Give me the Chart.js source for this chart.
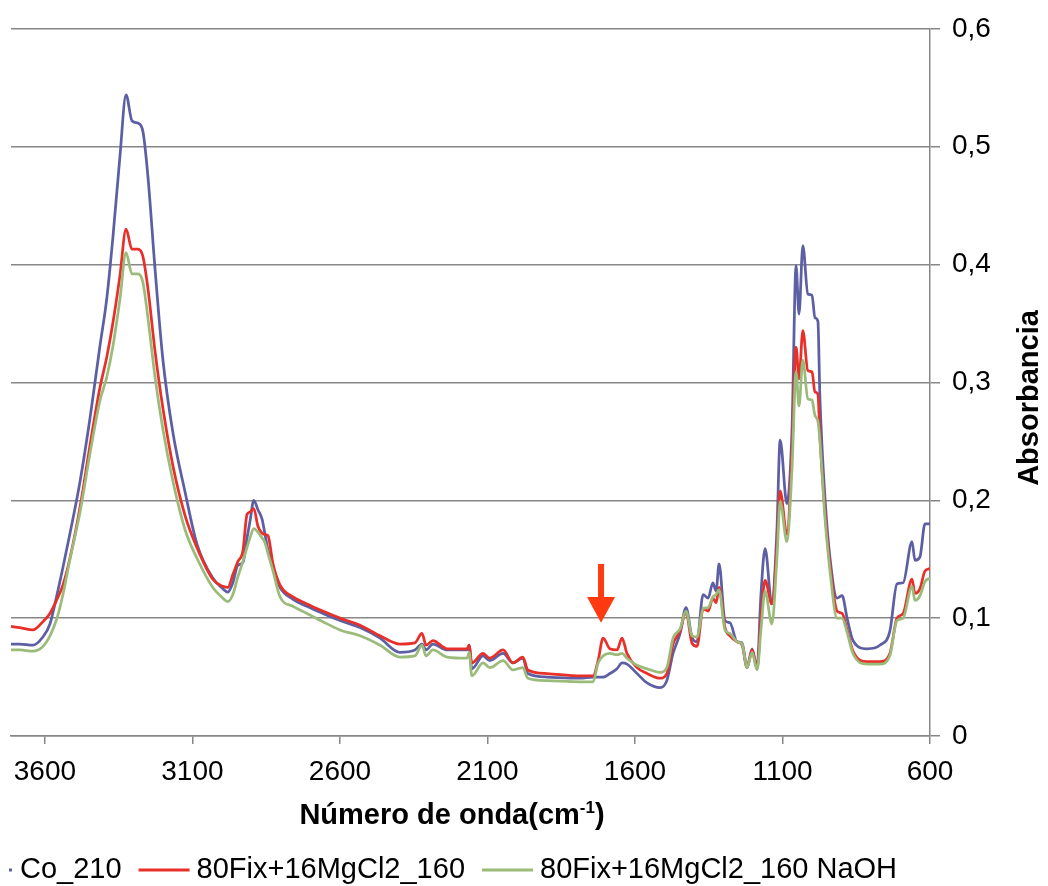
<!DOCTYPE html>
<html>
<head>
<meta charset="utf-8">
<script src="https://cdn.jsdelivr.net/npm/chart.js@4.4.0/dist/chart.umd.min.js"></script>
<style>
  html, body { margin: 0; padding: 0; background: #fff; }
  #wrap { width: 1048px; height: 886px; position: relative; }
</style>
</head>
<body>
<div id="wrap"><canvas id="chart"></canvas></div>
<script>
// Wavenumber (cm-1), high to low
const wavenumber = [
  3715, 3685, 3641, 3607, 3583, 3559, 3539, 3515, 3481, 3447,
  3414, 3390, 3370, 3346, 3325, 3305, 3285, 3268, 3251, 3227,
  3200, 3166, 3125, 3085, 3031, 2997, 2980, 2963, 2946, 2929,
  2915, 2905, 2892, 2878, 2864, 2854, 2844, 2827, 2803, 2759,
  2712, 2658, 2600, 2532, 2464, 2397, 2346, 2322, 2308, 2285,
  2237, 2169, 2162, 2153, 2115, 2092, 2047, 2014, 1980, 1963,
  1898, 1786, 1742, 1725, 1708, 1685, 1661, 1644, 1627, 1593,
  1559, 1515, 1492, 1471, 1447, 1427, 1407, 1390, 1369, 1352,
  1336, 1325, 1315, 1295, 1278, 1254, 1237, 1220, 1203, 1186,
  1173, 1159, 1136, 1119, 1108, 1085, 1068, 1054, 1044, 1031,
  1014, 1000, 990, 980, 973, 956, 939, 915, 898, 881,
  861, 814, 770, 736, 712, 691, 661, 651, 634, 617, 600
];

// Absorbance, series Co_210
const co210 = [
  0.078, 0.078, 0.077, 0.084, 0.095, 0.120, 0.143, 0.172, 0.216, 0.270,
  0.330, 0.372, 0.422, 0.491, 0.544, 0.522, 0.520, 0.513, 0.475, 0.397,
  0.319, 0.257, 0.207, 0.163, 0.134, 0.125, 0.122, 0.130, 0.145, 0.147,
  0.168, 0.182, 0.200, 0.192, 0.184, 0.171, 0.158, 0.142, 0.126, 0.116,
  0.110, 0.104, 0.098, 0.092, 0.083, 0.071, 0.073, 0.078, 0.073, 0.078,
  0.073, 0.073, 0.077, 0.057, 0.068, 0.064, 0.070, 0.062, 0.066, 0.053,
  0.050, 0.049, 0.050, 0.050, 0.050, 0.053, 0.057, 0.062, 0.061, 0.053,
  0.045, 0.041, 0.047, 0.070, 0.087, 0.109, 0.084, 0.080, 0.120, 0.117,
  0.130, 0.123, 0.146, 0.098, 0.096, 0.080, 0.079, 0.058, 0.074, 0.058,
  0.120, 0.159, 0.112, 0.174, 0.251, 0.197, 0.258, 0.399, 0.358, 0.416,
  0.375, 0.374, 0.355, 0.352, 0.286, 0.202, 0.151, 0.117, 0.119, 0.100,
  0.081, 0.074, 0.077, 0.089, 0.129, 0.130, 0.165, 0.149, 0.152, 0.180, 0.180
];

// Absorbance, series 80Fix+16MgCl2_160
const mgcl2 = [
  0.093, 0.092, 0.090, 0.097, 0.104, 0.116, 0.128, 0.151, 0.194, 0.247,
  0.295, 0.322, 0.350, 0.390, 0.430, 0.413, 0.413, 0.407, 0.380, 0.327,
  0.278, 0.229, 0.187, 0.160, 0.133, 0.127, 0.126, 0.137, 0.148, 0.157,
  0.188, 0.190, 0.193, 0.178, 0.172, 0.171, 0.170, 0.146, 0.128, 0.118,
  0.112, 0.106, 0.100, 0.094, 0.085, 0.078, 0.079, 0.087, 0.077, 0.081,
  0.074, 0.074, 0.077, 0.062, 0.070, 0.066, 0.073, 0.062, 0.067, 0.056,
  0.053, 0.051, 0.051, 0.064, 0.083, 0.074, 0.073, 0.083, 0.070, 0.058,
  0.053, 0.049, 0.053, 0.078, 0.089, 0.105, 0.079, 0.076, 0.108, 0.106,
  0.117, 0.113, 0.126, 0.092, 0.085, 0.080, 0.077, 0.058, 0.073, 0.057,
  0.100, 0.132, 0.112, 0.160, 0.208, 0.171, 0.240, 0.330, 0.303, 0.344,
  0.310, 0.309, 0.292, 0.290, 0.254, 0.190, 0.145, 0.106, 0.104, 0.090,
  0.072, 0.063, 0.063, 0.070, 0.100, 0.104, 0.133, 0.121, 0.125, 0.140, 0.142
];

// Absorbance, series 80Fix+16MgCl2_160 NaOH
const mgcl2NaOH = [
  0.073, 0.073, 0.072, 0.076, 0.085, 0.100, 0.120, 0.150, 0.190, 0.240,
  0.284, 0.305, 0.330, 0.370, 0.410, 0.392, 0.392, 0.385, 0.355, 0.305,
  0.260, 0.216, 0.175, 0.151, 0.126, 0.117, 0.114, 0.120, 0.135, 0.148,
  0.160, 0.168, 0.176, 0.173, 0.168, 0.164, 0.155, 0.140, 0.118, 0.110,
  0.104, 0.097, 0.090, 0.085, 0.077, 0.067, 0.068, 0.077, 0.068, 0.073,
  0.067, 0.066, 0.071, 0.051, 0.062, 0.058, 0.064, 0.056, 0.058, 0.049,
  0.047, 0.046, 0.046, 0.062, 0.068, 0.070, 0.069, 0.070, 0.066, 0.060,
  0.057, 0.054, 0.058, 0.083, 0.091, 0.106, 0.085, 0.084, 0.108, 0.109,
  0.118, 0.120, 0.124, 0.090, 0.087, 0.080, 0.078, 0.058, 0.071, 0.056,
  0.090, 0.123, 0.095, 0.150, 0.199, 0.165, 0.225, 0.309, 0.280, 0.319,
  0.286, 0.285, 0.272, 0.267, 0.250, 0.185, 0.140, 0.100, 0.100, 0.088,
  0.070, 0.061, 0.061, 0.068, 0.098, 0.100, 0.127, 0.115, 0.119, 0.131, 0.134
];

const seriesNames = ["Co_210", "80Fix+16MgCl2_160", "80Fix+16MgCl2_160 NaOH"];
const seriesColors = ["#5c5fa3", "#e8302a", "#9bbb7a"];
const xTicks = [3600, 3100, 2600, 2100, 1600, 1100, 600];

// red arrow pointing at the 1715 cm-1 band (absorbance from top of shaft to tip)
const arrowWavenumber = 1715;
const arrowTop = 0.146;
const arrowBase = 0.118;
const arrowTip = 0.096;

const FONT = "'Liberation Sans', Arial, sans-serif";
const GRID = "#878787";

function toPoints(values) {
  return wavenumber.map((w, i) => ({ x: w, y: values[i] }));
}

// arrow, axis titles and the legend row under the chart
const extras = {
  id: "extras",
  afterDatasetsDraw(chart) {
    const ctx = chart.ctx;
    const xs = chart.scales.x;
    const ys = chart.scales.y;

    // Arrow
    const ax = xs.getPixelForValue(arrowWavenumber);
    const yTop = ys.getPixelForValue(arrowTop);
    const yBase = ys.getPixelForValue(arrowBase);
    const yTip = ys.getPixelForValue(arrowTip);
    ctx.save();
    ctx.fillStyle = "#ff3a10";
    ctx.fillRect(ax - 3, yTop, 6, yBase - yTop + 1);
    ctx.beginPath();
    ctx.moveTo(ax - 14, yBase);
    ctx.lineTo(ax + 14, yBase);
    ctx.lineTo(ax, yTip);
    ctx.closePath();
    ctx.fill();
    ctx.restore();
  },
  afterDraw(chart) {
    const ctx = chart.ctx;
    ctx.save();
    ctx.fillStyle = "#000";

    // Y title, reads bottom to top
    ctx.font = "bold 29px " + FONT;
    ctx.textAlign = "center";
    ctx.textBaseline = "middle";
    ctx.translate(1030, 398);
    ctx.rotate(-Math.PI / 2);
    ctx.fillText("Absorbancia", 0, 0);
    ctx.setTransform(1, 0, 0, 1, 0, 0);

    // X title with superscript
    const main = "Número de onda(cm";
    const sup = "-1";
    const close = ")";
    ctx.textAlign = "left";
    ctx.textBaseline = "alphabetic";
    ctx.font = "bold 29px " + FONT;
    const wMain = ctx.measureText(main).width;
    const wClose = ctx.measureText(close).width;
    ctx.font = "bold 17px " + FONT;
    const wSup = ctx.measureText(sup).width;
    let tx = 452 - (wMain + wSup + wClose) / 2;
    const base = 824;
    ctx.font = "bold 29px " + FONT;
    ctx.fillText(main, tx, base);
    tx += wMain;
    ctx.font = "bold 17px " + FONT;
    ctx.fillText(sup, tx, base - 11);
    tx += wSup;
    ctx.font = "bold 29px " + FONT;
    ctx.fillText(close, tx, base);

    // Legend
    const ly = 870;
    ctx.font = "29px " + FONT;
    ctx.textBaseline = "middle";
    let lx = 20;
    seriesNames.forEach((name, i) => {
      ctx.strokeStyle = seriesColors[i];
      ctx.lineWidth = 3;
      ctx.beginPath();
      if (i === 0) {
        // only the tip of the first marker fits on the canvas
        ctx.moveTo(9, ly);
        ctx.lineTo(12, ly);
      } else {
        ctx.moveTo(lx, ly);
        ctx.lineTo(lx + 51, ly);
        lx += 58;
      }
      ctx.stroke();
      ctx.fillStyle = "#000";
      ctx.fillText(name, lx, ly);
      lx += ctx.measureText(name).width + 17;
    });
    ctx.restore();
  },
};

const config = {
  type: "line",
  data: {
    datasets: [
      {
        label: seriesNames[0],
        data: toPoints(co210),
        borderColor: seriesColors[0],
        order: 2,
      },
      {
        label: seriesNames[1],
        data: toPoints(mgcl2),
        borderColor: seriesColors[1],
        order: 1,
      },
      {
        label: seriesNames[2],
        data: toPoints(mgcl2NaOH),
        borderColor: seriesColors[2],
        order: 0,
      },
    ],
  },
  options: {
    responsive: true,
    maintainAspectRatio: false,
    animation: false,
    devicePixelRatio: 1,
    layout: { padding: { left: 11, top: 22, right: 0, bottom: 0 } },
    elements: {
      point: { radius: 0 },
      line: { borderWidth: 2.75, cubicInterpolationMode: "monotone", fill: false },
    },
    plugins: {
      legend: { display: false },
      tooltip: { enabled: false },
    },
    scales: {
      x: {
        type: "linear",
        reverse: true,
        min: 600,
        max: 3715,
        afterBuildTicks: (scale) => {
          scale.ticks = xTicks.map((v) => ({ value: v }));
        },
        afterFit: (scale) => {
          scale.height = 150;
        },
        ticks: {
          font: { family: FONT, size: 28 },
          color: "#000",
          padding: 11,
          maxRotation: 0,
          autoSkip: false,
          callback: (v) => String(v),
        },
        grid: { drawOnChartArea: false, tickLength: 8, color: GRID, lineWidth: 1.5 },
        border: { display: true, color: GRID, width: 1.5 },
      },
      y: {
        position: "right",
        min: 0,
        max: 0.6,
        afterFit: (scale) => {
          scale.width = 118;
        },
        ticks: {
          stepSize: 0.1,
          font: { family: FONT, size: 28 },
          color: "#000",
          padding: 12,
          callback: (v) => (v === 0 ? "0" : v.toFixed(1).replace(".", ",")),
        },
        grid: { color: GRID, lineWidth: 1.5, tickLength: 10 },
        border: { display: true, color: GRID, width: 1.5 },
      },
    },
  },
  plugins: [extras],
};

new Chart(document.getElementById("chart"), config);
</script>
</body>
</html>
